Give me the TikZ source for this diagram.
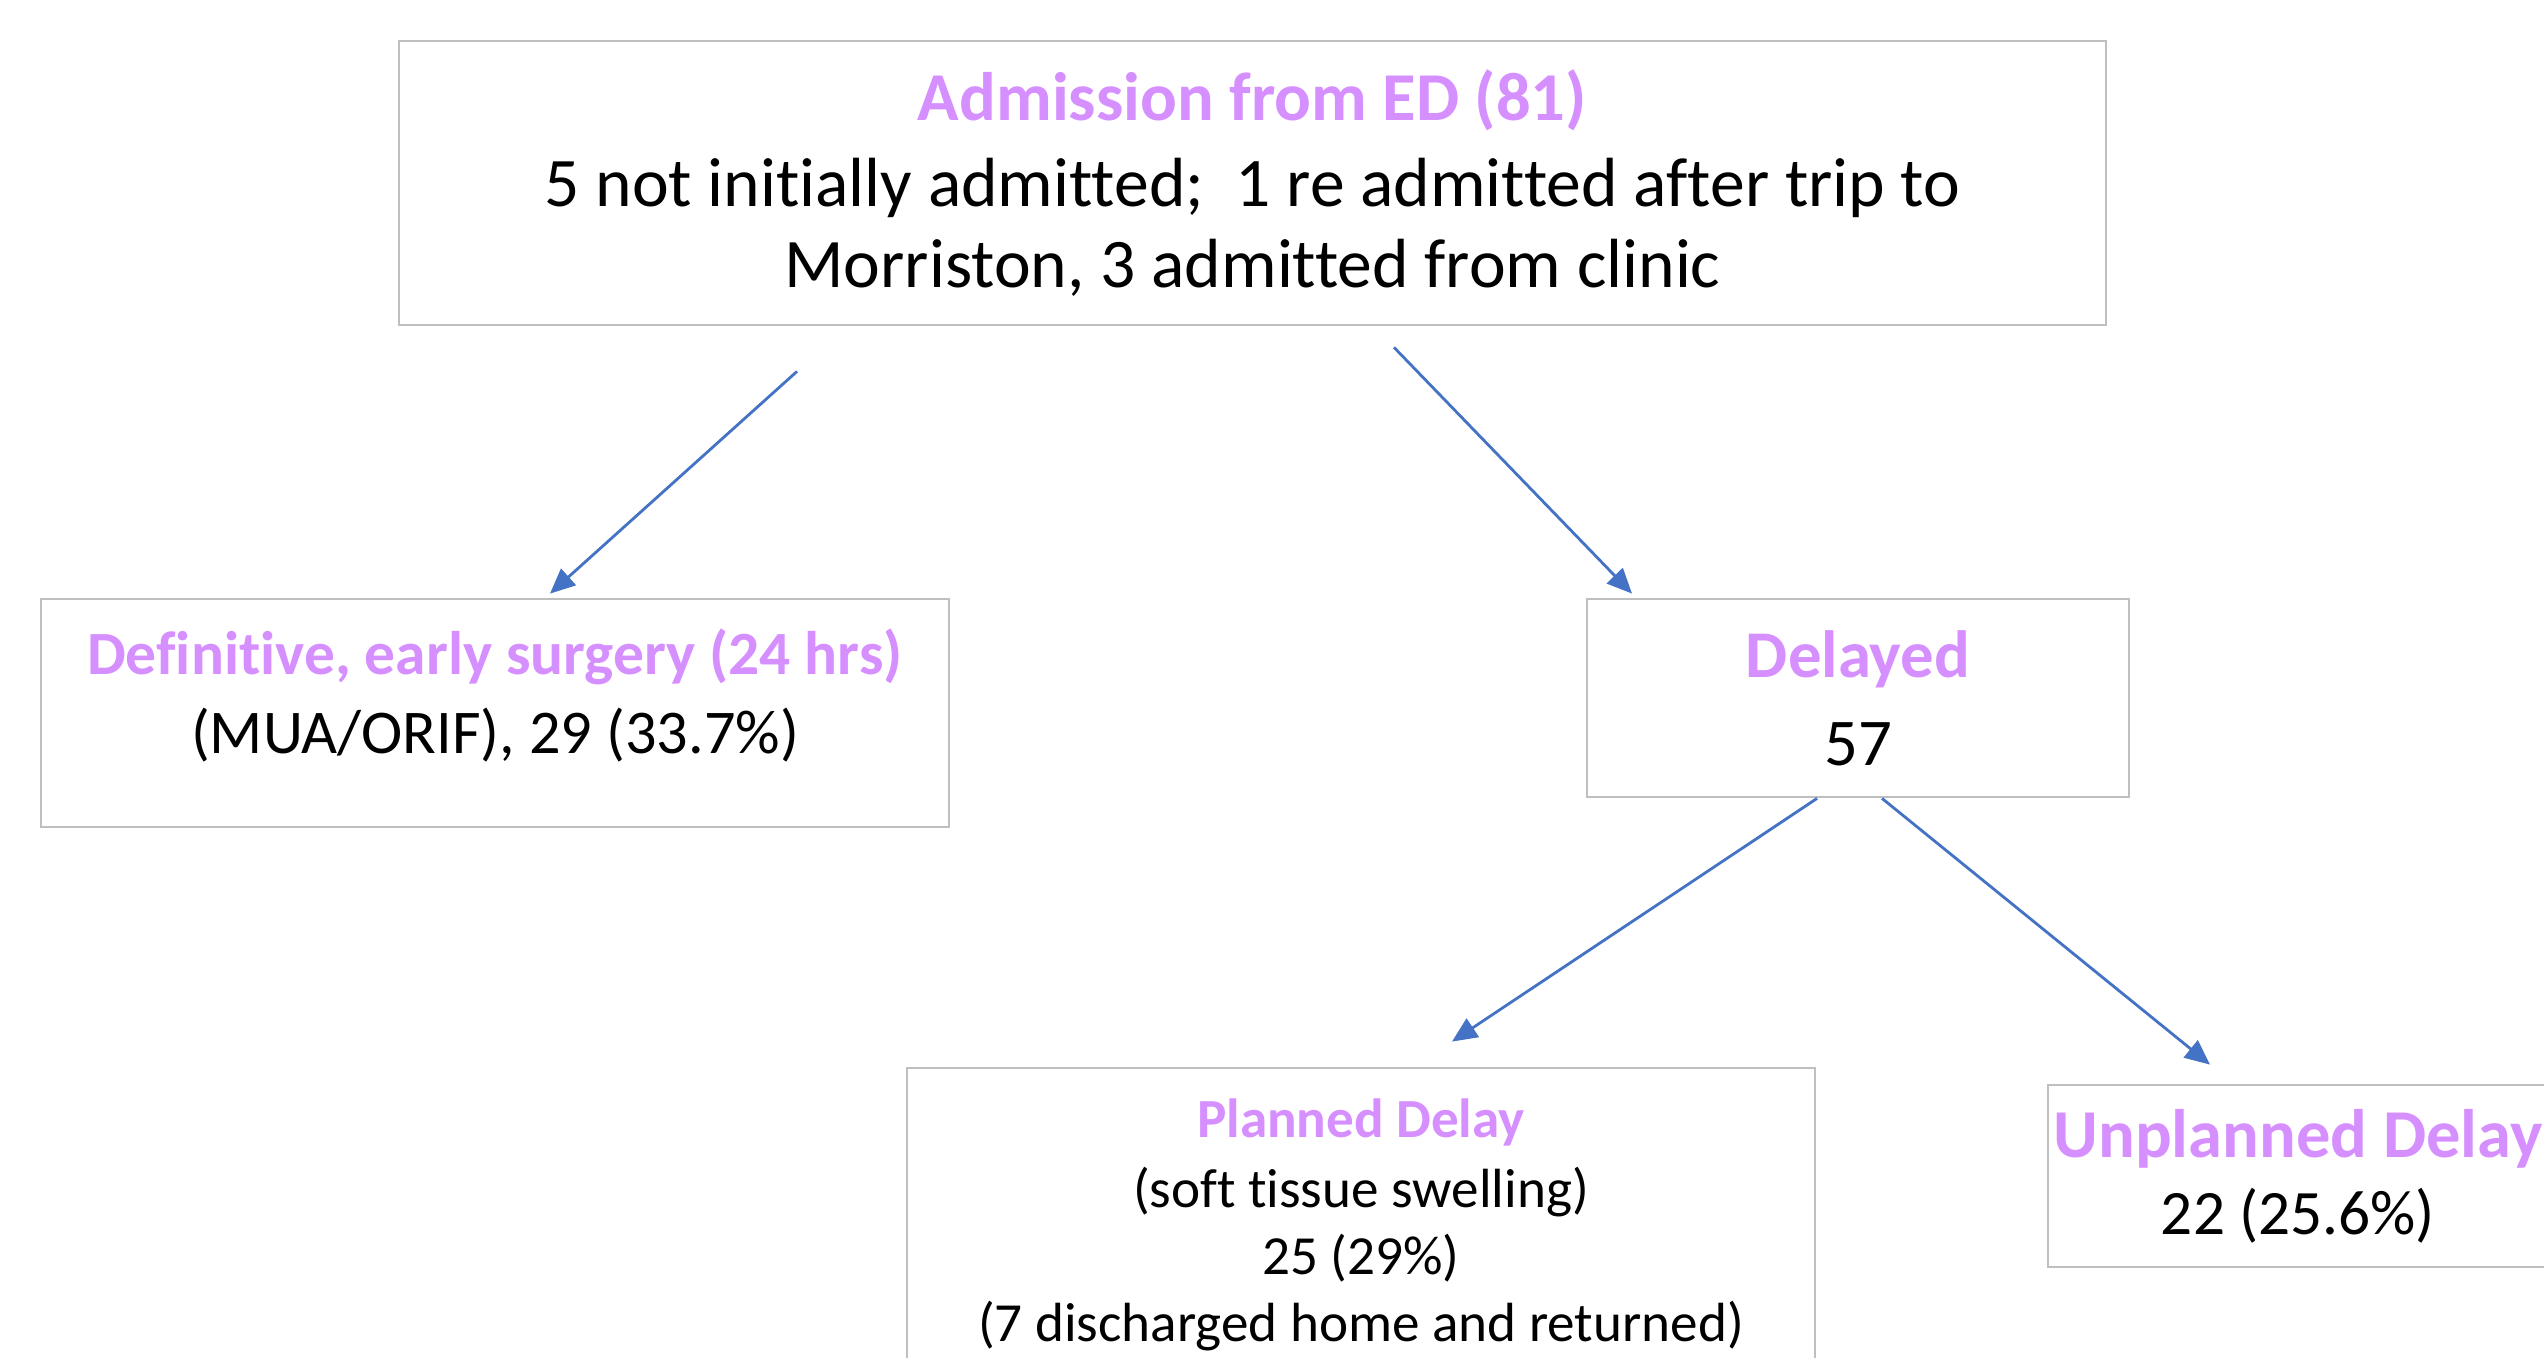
\documentclass[tikz,border=0pt]{standalone}
\usepackage{fontspec}
\setmainfont{Carlito}[Ligatures=NoCommon]
\usetikzlibrary{arrows.meta}
\definecolor{headpurple}{RGB}{214,143,255}
\definecolor{boxgray}{RGB}{191,191,191}
\definecolor{linkblue}{RGB}{68,114,196}
\newcommand{\headtext}[1]{{\bfseries\color{headpurple}#1}}

\begin{document}
\begin{tikzpicture}[>={Triangle[length=0.25cm,width=0.22cm]},
   box/.style={draw=boxgray,line width=0.8pt,align=center,inner sep=0pt},
   link/.style={->,draw=linkblue,fill=linkblue,line width=0.8pt}]
   % Page size
   \useasboundingbox (0,0) rectangle (25.44,-13.58);
   \clip (0,0) rectangle (25.44,-13.58);
   % Boxes
   \node [box,minimum width=17.07cm,minimum height=2.84cm,font=\fontsize{19.8}{23}\selectfont] (adm) at (12.525,-1.83)
      {\headtext{\fontsize{19.5}{23}\selectfont Admission from ED (81)}\\[1.5pt]5 not initially admitted;~ 1 re admitted after trip to\\Morriston, 3 admitted from clinic};
   \node [box,minimum width=9.08cm,minimum height=2.28cm,font=\fontsize{17.7}{22.5}\selectfont] (early) at (4.95,-7.13)
      {\headtext{\fontsize{17.5}{22.5}\selectfont Definitive, early surgery (24 hrs)}\\(MUA/ORIF), 29 (33.7\%)\\[-10pt]~};
   \node [box,minimum width=5.42cm,minimum height=1.98cm,font=\fontsize{19}{25}\selectfont] (delayed) at (18.58,-6.98)
      {\headtext{Delayed}\\57};
   \node [box,minimum width=9.08cm,minimum height=3.14cm,font=\fontsize{15.7}{19}\selectfont] (planned) at (13.61,-12.25)
      {\headtext{Planned Delay}\\[1pt](soft tissue swelling)\\25 (29\%)\\(7 discharged home and returned)};
   \node [box,minimum width=5.0cm,minimum height=1.82cm,font=\fontsize{18}{22}\selectfont] (unplanned) at (22.98,-11.76)
      {\headtext{\fontsize{19.5}{22}\selectfont Unplanned Delay}\\22 (25.6\%)};
   % Arrow ends
   \coordinate (admL) at ([xshift=-4.555cm,yshift=-0.45cm]adm.south);
   \coordinate (admR) at ([xshift=1.415cm,yshift=-0.21cm]adm.south);
   \coordinate (earlyIn) at ([xshift=0.55cm,yshift=0.04cm]early.north);
   \coordinate (delayedIn) at ([xshift=-2.26cm,yshift=0.04cm]delayed.north);
   \coordinate (delayedL) at ([xshift=-0.41cm]delayed.south);
   \coordinate (delayedR) at ([xshift=0.24cm]delayed.south);
   \coordinate (plannedIn) at ([xshift=0.91cm,yshift=0.25cm]planned.north);
   \coordinate (unplannedIn) at ([xshift=-0.88cm,yshift=0.19cm]unplanned.north);
   % Links
   \draw [link] (admL) -- (earlyIn);
   \draw [link] (admR) -- (delayedIn);
   \draw [link] (delayedL) -- (plannedIn);
   \draw [link] (delayedR) -- (unplannedIn);
\end{tikzpicture}
\end{document}
